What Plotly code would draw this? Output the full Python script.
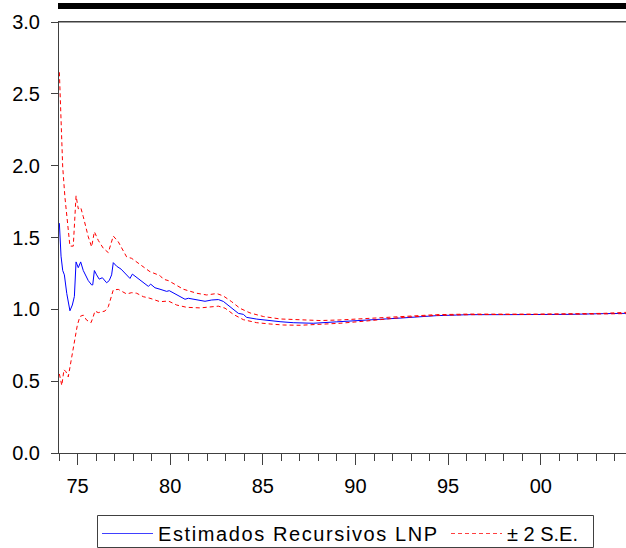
import plotly.graph_objects as go

# Recursive coefficient estimate (decimal years)
est_x = [1974.02, 1974.11, 1974.20, 1974.29, 1974.42, 1974.59, 1974.72, 1974.83, 1974.92,
         1975.04, 1975.17, 1975.31, 1975.58, 1975.76, 1975.82, 1975.91, 1976.03, 1976.17,
         1976.34, 1976.57, 1976.71, 1976.84, 1976.93, 1977.11, 1977.35, 1977.56, 1977.83,
         1977.96, 1978.16, 1978.37, 1978.82, 1978.95, 1979.18, 1979.45, 1979.81, 1979.95,
         1980.35, 1980.80, 1980.98, 1981.43, 1981.88, 1982.24, 1982.60, 1982.87, 1983.23,
         1983.41, 1983.68, 1983.95, 1984.13, 1984.67, 1985.39, 1985.93, 1986.64, 1987.18,
         1987.72, 1988.99, 1989.88, 1990.78, 1991.15, 1992.40, 1994.38, 1996.18, 1997.98,
         1999.78, 2001.58, 2003.37, 2004.60]
est_y = [1.60, 1.37, 1.27, 1.24, 1.11, 0.99, 1.03, 1.09, 1.33,
         1.29, 1.33, 1.27, 1.20, 1.17, 1.17, 1.27, 1.24, 1.21,
         1.22, 1.185, 1.20, 1.24, 1.325, 1.30, 1.28, 1.25, 1.215,
         1.245, 1.225, 1.20, 1.16, 1.175, 1.15, 1.14, 1.125, 1.13,
         1.10, 1.07, 1.077, 1.065, 1.056, 1.065, 1.068, 1.055, 1.018,
         1.005, 0.972, 0.965, 0.944, 0.932, 0.92, 0.914, 0.907, 0.905,
         0.903, 0.913, 0.921, 0.926, 0.93, 0.939, 0.956, 0.963, 0.963,
         0.963, 0.965, 0.97, 0.972]

# Upper band (+2 S.E.)
up_x = [1974.02, 1974.05, 1974.11, 1974.20, 1974.32, 1974.50, 1974.59, 1974.77, 1974.92,
        1975.04, 1975.17, 1975.31, 1975.58, 1975.76, 1975.91, 1976.12, 1976.39, 1976.66,
        1976.93, 1977.20, 1977.65, 1977.92, 1978.37, 1978.91, 1979.45, 1979.63, 1979.90,
        1980.17, 1980.53, 1980.71, 1981.43, 1981.97, 1982.51, 1982.87, 1983.32, 1983.77,
        1984.31, 1985.03, 1985.93, 1987.01, 1988.09, 1989.17, 1990.61, 1992.58, 1994.38,
        1996.18, 1999.78, 2003.37, 2004.60]
up_y = [2.65, 2.55, 2.30, 1.99, 1.78, 1.55, 1.44, 1.44, 1.79,
        1.70, 1.71, 1.645, 1.505, 1.435, 1.54, 1.48, 1.425, 1.395,
        1.51, 1.47, 1.365, 1.355, 1.31, 1.262, 1.235, 1.21, 1.20,
        1.18, 1.158, 1.14, 1.112, 1.10, 1.11, 1.093, 1.053, 1.007,
        0.975, 0.95, 0.933, 0.926, 0.922, 0.926, 0.937, 0.949, 0.963,
        0.967, 0.966, 0.972, 0.979]

# Lower band (-2 S.E.)
lo_x = [1974.02, 1974.15, 1974.27, 1974.38, 1974.50, 1974.69, 1974.86, 1974.99, 1975.13,
        1975.31, 1975.49, 1975.73, 1975.85, 1975.94, 1976.12, 1976.48, 1976.66, 1976.93,
        1977.20, 1977.47, 1977.65, 1977.92, 1978.19, 1978.55, 1978.91, 1979.45, 1979.90,
        1980.35, 1980.89, 1981.61, 1982.06, 1982.60, 1982.96, 1983.41, 1983.95, 1984.67,
        1985.39, 1986.10, 1987.01, 1988.09, 1989.17, 1990.61, 1992.58, 1994.38, 1996.18,
        2003.37, 2004.60]
lo_y = [0.55, 0.47, 0.58, 0.565, 0.53, 0.67, 0.82, 0.89, 0.95,
        0.96, 0.925, 0.907, 0.95, 0.988, 0.977, 0.988, 1.018, 1.135,
        1.139, 1.123, 1.107, 1.116, 1.112, 1.088, 1.077, 1.053, 1.058,
        1.03, 1.014, 1.01, 1.014, 1.022, 1.008, 0.965, 0.928, 0.907,
        0.898, 0.891, 0.889, 0.896, 0.903, 0.919, 0.944, 0.958, 0.963,
        0.968, 0.97]

tick_years = [1975, 1980, 1985, 1990, 1995, 2000]
tick_labels = ["75", "80", "85", "90", "95", "00"]

FONT = "Liberation Sans, Arial, sans-serif"
AXIS = "#404040"
FS = 20
PW, PH = 567, 431          # plot area in px
L, T = 59, 22              # plot-area origin on the page


def px_x(x):
    return (x - L) / PW


def px_y(y):
    return (T + PH - y) / PH


fig = go.Figure()
fig.add_trace(go.Scatter(x=est_x, y=est_y, mode="lines",
                         line=dict(color="#0000FF", width=1),
                         name="Estimados Recursivos LNP", legend="legend"))
fig.add_trace(go.Scatter(x=up_x, y=up_y, mode="lines",
                         line=dict(color="#FF0000", width=1, dash="4px,3px"),
                         name="± 2 S.E.", legend="legend2"))
fig.add_trace(go.Scatter(x=lo_x, y=lo_y, mode="lines",
                         line=dict(color="#FF0000", width=1, dash="4px,3px"),
                         name="± 2 S.E.", showlegend=False))

leg_common = dict(orientation="h", xanchor="left", yanchor="top",
                  borderwidth=0, bgcolor="rgba(0,0,0,0)",
                  font=dict(family=FONT, size=FS, color="black"),
                  itemwidth=51, tracegroupgap=0)

fig.update_layout(
    width=626, height=548,
    margin=dict(l=L, r=0, t=T, b=548 - T - PH, pad=0, autoexpand=False),
    paper_bgcolor="white", plot_bgcolor="white",
    font=dict(family=FONT, size=FS, color="black"),
    showlegend=True,
    legend=dict(x=px_x(97), y=px_y(514), **leg_common),
    legend2=dict(x=px_x(446), y=px_y(514), **leg_common),
)
fig.update_xaxes(range=[1974.0, 2004.6], showgrid=False, zeroline=False,
                 showline=True, linecolor=AXIS, linewidth=1, mirror=True,
                 tickmode="array", tickvals=tick_years, ticktext=tick_labels,
                 ticks="outside", ticklen=11, tickcolor=AXIS, tickwidth=1,
                 ticklabelstandoff=4,
                 minor=dict(tickmode="linear", tick0=1974, dtick=1, ticks="outside",
                            ticklen=7, tickcolor=AXIS, tickwidth=1, showgrid=False),
                 tickfont=dict(family=FONT, size=FS, color="black"))
fig.update_yaxes(range=[0, 3.0], showgrid=False, zeroline=False,
                 showline=True, linecolor=AXIS, linewidth=1,
                 tickmode="linear", tick0=0, dtick=0.5, tickformat=".1f",
                 ticks="outside", ticklen=7, tickcolor=AXIS, tickwidth=1,
                 ticklabelstandoff=7,
                 tickfont=dict(family=FONT, size=FS, color="black"))

# thick black bar above the plot
fig.add_shape(type="rect", xref="paper", yref="paper",
              x0=px_x(58), x1=1.0, y0=px_y(9), y1=px_y(3),
              fillcolor="black", line=dict(width=0), layer="above")
# top frame line
fig.add_shape(type="line", xref="paper", yref="paper",
              x0=0, x1=1.0, y0=1, y1=1, line=dict(color=AXIS, width=1), layer="above")
# legend box
fig.add_shape(type="rect", xref="paper", yref="paper",
              x0=px_x(97.5), x1=px_x(593.5), y0=px_y(547.5), y1=px_y(515.5),
              fillcolor="rgba(0,0,0,0)", line=dict(color="#404040", width=1))

post = """
document.body.style.margin='0';document.body.style.overflow='hidden';
var gd=document.getElementById('{plot_id}');
function sp(){
 gd.querySelectorAll('g[class^="legend"] .scrollbox').forEach(function(e){e.removeAttribute('clip-path');});
 var t=gd.querySelectorAll('.legendtext');
 if(t.length>0){t[0].style.letterSpacing='1.6px';}
 if(t.length>1){t[1].style.letterSpacing='1.2px';}
 var cols=['#4040FF','#FF4040'];
 gd.querySelectorAll('.traces').forEach(function(g,i){
   g.querySelectorAll('.legendlines path').forEach(function(p){
     p.style.stroke=cols[Math.min(i,1)]; p.style.strokeOpacity='1';
     p.setAttribute('stroke',cols[Math.min(i,1)]);});});}
sp(); setTimeout(sp,50); setTimeout(sp,300);
if(gd.on){gd.on('plotly_afterplot',sp);}
"""
fig.write_html("out.html", config={"displayModeBar": False}, post_script=post)
